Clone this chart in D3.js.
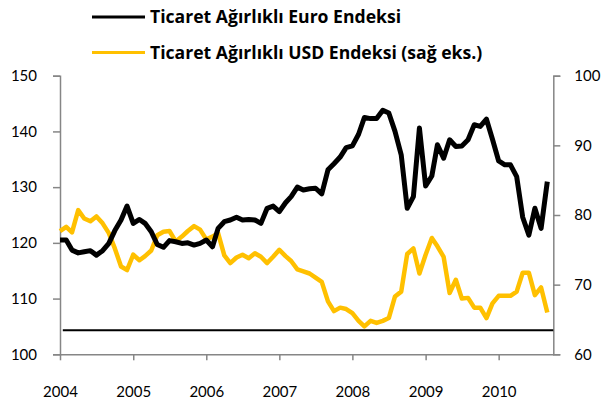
<!DOCTYPE html>
<html>
<head>
<meta charset="utf-8">
<script src="https://cdn.jsdelivr.net/npm/d3@7"></script>
<style>
  body { margin: 0; background: #fff; }
  svg { display: block; font-family: Lato, "Open Sans", sans-serif; }
</style>
</head>
<body>
<script>
'use strict';

// monthly values, Jan 2004 - Sep 2010
const euroIndex = [
    120.5, 120.5, 118.7, 118.2, 118.4, 118.6, 117.8, 118.6, 119.9, 122.2, 124.1, 126.6,
    123.5, 124.2, 123.5, 122.0, 119.7, 119.2, 120.4, 120.2, 119.9, 120.0, 119.6, 119.9,
    120.5, 119.3, 122.6, 123.8, 124.1, 124.6, 124.1, 124.2, 124.1, 123.5, 126.2, 126.6,
    125.6, 127.2, 128.3, 130.0, 129.5, 129.7, 129.8, 128.8, 133.1, 134.2, 135.4, 137.1,
    137.4, 139.5, 142.5, 142.3, 142.3, 143.8, 143.3, 140.0, 135.8, 126.2, 128.3, 140.6,
    130.2, 132.0, 137.6, 135.2, 138.5, 137.3, 137.4, 138.5, 141.2, 140.9, 142.2, 138.6,
    134.7, 134.0, 134.0, 131.9, 124.6, 121.4, 126.2, 122.6, 131.0
];
const usdIndex = [
    77.7, 78.3, 77.5, 80.7, 79.5, 79.1, 79.8, 78.8, 77.4, 75.2, 72.6, 72.1,
    74.3, 73.5, 74.1, 74.9, 77.1, 77.6, 77.7, 76.2, 76.9, 77.7, 78.4, 77.9,
    76.5, 76.9, 77.4, 74.2, 73.1, 73.9, 74.3, 73.8, 74.5, 74.0, 73.1, 74.0,
    75.0, 74.1, 73.4, 72.2, 71.9, 71.6, 71.0, 70.4, 67.6, 66.2, 66.7, 66.5,
    65.9, 64.8, 64.0, 64.8, 64.5, 64.8, 65.2, 68.3, 69.0, 74.4, 75.2, 71.6,
    74.3, 76.7, 75.5, 74.0, 68.8, 70.7, 68.0, 68.1, 66.7, 66.7, 65.2, 67.3,
    68.4, 68.4, 68.4, 69.0, 71.7, 71.7, 68.5, 69.6, 66.0
];
const months = euroIndex.map((d, i) => new Date(2004, i, 1));
const baseLine = 104.3; // flat black line on left axis
const leftTicks = [100, 110, 120, 130, 140, 150];
const rightTicks = [60, 70, 80, 90, 100];
const seriesNames = ["Ticaret Ağırlıklı Euro Endeksi", "Ticaret Ağırlıklı USD Endeksi (sağ eks.)"];
const seriesColors = ["#000000", "#FFC000"];

const width = 603, height = 400;
const margin = { left: 60, right: 49.7, top: 75.7, bottom: 45.7 };

const svg = d3.select("body").append("svg")
    .attr("width", width)
    .attr("height", height);

let x = d3.scaleTime()
    .domain([new Date(2004, 0, 1), new Date(2010, 9, 1)])
    .range([margin.left, width - margin.right]);
let yL = d3.scaleLinear().domain([100, 150]).range([height - margin.bottom, margin.top]);
let yR = d3.scaleLinear().domain([60, 100]).range([height - margin.bottom, margin.top]);

// axes
let axisColor = "#868686";
let gL = svg.append("g")
    .attr("transform", "translate(" + margin.left + ",0)")
    .call(d3.axisLeft(yL).tickValues(leftTicks).tickSize(7).tickPadding(16));
let gR = svg.append("g")
    .attr("transform", "translate(" + (width - margin.right) + ",0)")
    .call(d3.axisRight(yR).tickValues(rightTicks).tickSize(7).tickPadding(14));
let gB = svg.append("g")
    .attr("transform", "translate(0," + (height - margin.bottom) + ")")
    .call(d3.axisBottom(x).ticks(d3.timeYear.every(1)).tickFormat(d3.timeFormat("%Y"))
        .tickSize(6).tickSizeOuter(0).tickPadding(26));

[gL, gR, gB].forEach(function(g) {
    g.select(".domain").attr("stroke", axisColor).attr("stroke-width", 1.5);
    g.selectAll(".tick line").attr("stroke", axisColor).attr("stroke-width", 1.5);
    g.selectAll(".tick text")
        .attr("fill", "#000")
        .attr("font-size", "15px")
        .attr("font-family", "Lato, 'Open Sans', sans-serif");
});
gB.selectAll(".tick text").filter(d => d > new Date(2010, 9, 1)).remove();

// flat base line
svg.append("line")
    .attr("x1", x(new Date(2004, 0, 15)))
    .attr("x2", x(new Date(2010, 9, 1)))
    .attr("y1", yL(baseLine))
    .attr("y2", yL(baseLine))
    .attr("stroke", "#000")
    .attr("stroke-width", 2);

// series lines
let lineL = d3.line().x((d, i) => x(months[i])).y(d => yL(d));
let lineR = d3.line().x((d, i) => x(months[i])).y(d => yR(d));

svg.append("path")
    .datum(usdIndex)
    .attr("d", lineR)
    .attr("fill", "none")
    .attr("stroke", seriesColors[1])
    .attr("stroke-width", 4.5)
    .attr("stroke-linejoin", "round");

svg.append("path")
    .datum(euroIndex)
    .attr("d", lineL)
    .attr("fill", "none")
    .attr("stroke", seriesColors[0])
    .attr("stroke-width", 5)
    .attr("stroke-linejoin", "round");

// legend
let legend = svg.selectAll(".legend")
    .data(seriesNames)
    .enter()
    .append("g")
    .attr("transform", (d, i) => "translate(92," + (17 + i * 35.5) + ")");
legend.append("line")
    .attr("x1", 0).attr("x2", 53)
    .attr("stroke", (d, i) => seriesColors[i])
    .attr("stroke-width", 3);
legend.append("text")
    .attr("x", 58)
    .attr("dy", "0.36em")
    .attr("font-family", "'Open Sans', Lato, sans-serif")
    .attr("font-size", "17.6px")
    .attr("font-weight", "bold")
    .text(d => d);
</script>
</body>
</html>
